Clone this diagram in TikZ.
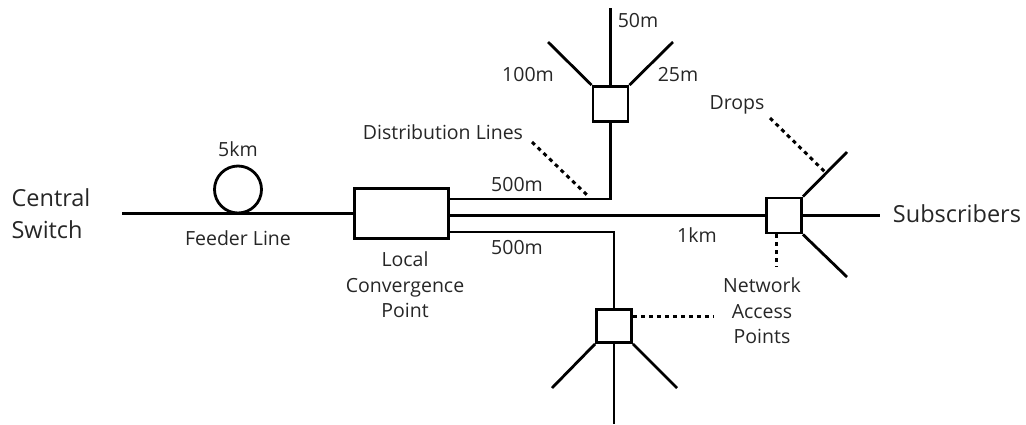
\documentclass[tikz,border=0pt]{standalone}
\usepackage{fontspec}
\setmainfont{Open Sans}
\begin{document}
\begin{tikzpicture}[x=1pt,y=-1pt,line width=2.8pt,
  box/.style={draw,line width=2.8pt,inner sep=0pt,fill=white,minimum width=35pt,minimum height=35pt},
  lbl/.style={font=\fontsize{19.5}{22}\selectfont,text=black!85,inner sep=0pt},
  big/.style={font=\fontsize{23.5}{32}\selectfont,text=black!85,inner sep=0pt,align=left},
  mid/.style={font=\fontsize{19.5}{25.5}\selectfont,text=black!85,inner sep=0pt,align=center},
  dots/.style={line width=3pt,dash pattern=on 4pt off 4pt}]
\useasboundingbox (0,0) rectangle (1026,424);
% nodes
\node[box,minimum width=94pt,minimum height=50pt] (lcp) at (401.5,213.5) {};
\node[box] (napU) at (610.5,104) {};
\node[box] (napR) at (784,215.5) {};
\node[box,minimum height=33pt] (napD) at (614,326) {};
\coordinate (cs) at (122,213.5);
\node[draw,circle,line width=2.8pt,minimum size=47pt,inner sep=0pt] (loop) at (238,189.5) {};
% feeder
\draw (cs) -- (lcp.west);
% distribution lines
\draw ([yshift=14.5pt]lcp.east) -| (napU.south);
\draw (lcp.east |- napR.west) -- (napR.west);
\draw ([yshift=-18.5pt]lcp.east) -| (napD.north);
% upper fan
\coordinate (u1) at (610.5,8);
\coordinate (u2) at (548,42);
\coordinate (u3) at (673,42);
\draw (napU.north) -- (u1);
\draw (napU.north west) -- (u2);
\draw (napU.north east) -- (u3);
% right fan
\coordinate (r1) at (880,215.5);
\coordinate (r2) at (847,152);
\coordinate (r3) at (847,277);
\draw (napR.east) -- (r1);
\draw (napR.north east) -- (r2);
\draw (napR.south east) -- (r3);
% lower fan
\coordinate (d1) at (614,424);
\coordinate (d2) at (552,388);
\coordinate (d3) at (677,388);
\draw (napD.south) -- (d1);
\draw (napD.south west) -- (d2);
\draw (napD.south east) -- (d3);
% dotted pointers
\coordinate (p1a) at (532,142);
\coordinate (p1b) at (587,195);
\draw[dots] (p1a) -- (p1b);
\coordinate (p2a) at (770,118);
\coordinate (p2b) at (825,172);
\draw[dots] (p2a) -- (p2b);
\coordinate (p3b) at (776,267);
\draw[dots] ([xshift=-8pt]napR.south) -- (p3b);
\coordinate (p4b) at (713,316);
\draw[dots] (napD.east |- p4b) -- (p4b);
% labels
\node[big] (tcs) at (51,214) {Central\\Switch};
\node[lbl] (t5km) at (238,149) {5km};
\node[lbl] (tfl) at (238,238) {Feeder Line};
\node[mid] (tlcp) at (405,285) {Local\\Convergence\\Point};
\node[lbl] (t500a) at (517,185) {500m};
\node[lbl] (t500b) at (517,248) {500m};
\node[lbl] (tdl) at (443,132) {Distribution Lines};
\node[lbl] (t100) at (528,75) {100m};
\node[lbl] (t50) at (638,21) {50m};
\node[lbl] (t25) at (678,75) {25m};
\node[lbl] (tdrops) at (737,105) {Drops};
\node[lbl] (t1km) at (697,235) {1km};
\node[big] (tsub) at (957,214) {Subscribers};
\node[mid] (tnap) at (762,311) {Network\\Access\\Points};
\end{tikzpicture}
\end{document}
